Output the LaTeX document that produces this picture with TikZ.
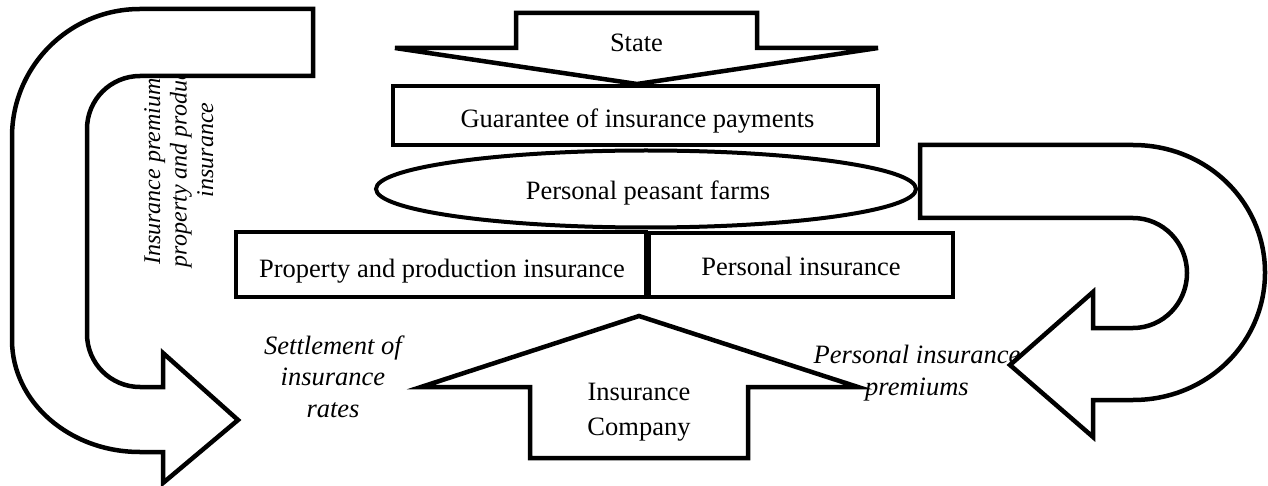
\documentclass[tikz,border=0pt]{standalone}
\usepackage{fontspec}
\setmainfont{Liberation Serif}
\usetikzlibrary{shapes.geometric}
\begin{document}
\begin{tikzpicture}[x=1pt,y=-1pt,
  outl/.style={draw=black,line width=4.5pt,line join=miter,fill=white},
  boxst/.style={draw=black,line width=4pt,fill=white,inner sep=0pt},
  reg/.style={font=\fontsize{26.5}{35}\selectfont,inner sep=0pt,align=center},
  ital/.style={font=\fontsize{26.5}{31.5}\selectfont\itshape,inner sep=0pt,align=center},
  rot/.style={font=\fontsize{24}{26.5}\selectfont\itshape,inner sep=0pt,align=center}]
\fill[white] (0,0) rectangle (1268,486);
\useasboundingbox (0,0) rectangle (1268,486);

% texts partly hidden behind the curved arrows (anchor base = last line)
\node[rot,rotate=90,anchor=base] (prem) at (213,150)
  {Insurance premiums for\\property and production\\insurance};
\node[ital,anchor=base] (pers) at (917,395) {Personal insurance\\premiums};

% left curved arrow
\draw[outl] (313,9) -- (140,9)
  .. controls (69.3,9) and (12,66.3) .. (12,137)
  -- (12,340)
  .. controls (12,401.8) and (69.3,452) .. (140,452)
  -- (163,452) -- (163,483) -- (238,420) -- (163,353) -- (163,387) -- (140,387)
  .. controls (110.7,387) and (87,363.3) .. (87,334)
  -- (87,129)
  .. controls (87,99.7) and (110.7,76) .. (140,76)
  -- (313,76) -- cycle;

% right curved arrow
\draw[outl] (920,145) -- (1133,145)
  .. controls (1207,145) and (1265,202.1) .. (1265,272.5)
  .. controls (1265,342.9) and (1207,400) .. (1133,400)
  -- (1093,400) -- (1093,437) -- (1010,365) -- (1093,292) -- (1093,328) -- (1133,328)
  .. controls (1162.8,328) and (1187,303.4) .. (1187,273)
  .. controls (1187,242.6) and (1162.8,218) .. (1133,218)
  -- (920,218) -- cycle;

% boxes
\node[boxst,minimum width=485pt,minimum height=59pt] (guar) at (635.5,115.5) {};
\node[boxst,ellipse,minimum width=540pt,minimum height=77pt] (farms) at (646,189) {};
\node[boxst,minimum width=410pt,minimum height=65pt] (prop) at (441,264.5) {};
\node[boxst,minimum width=304pt,minimum height=64pt] (persbox) at (801,265) {};

% State arrow
\draw[outl] (395,48) -- (516,48) -- (516,13) -- (757,13) -- (757,48) -- (878,48) -- (637,84) -- cycle;
% Insurance company arrow
\draw[outl] (639,316) -- (858,387) -- (748,387) -- (748,458) -- (530,458) -- (530,387) -- (421,387) -- cycle;

% labels
\node[reg,anchor=base] (tstate) at (636.5,52) {State};
\node[reg,anchor=base] (tguar) at (637.5,128) {Guarantee of insurance payments};
\node[reg,anchor=base] (tfarms) at (648,200) {Personal peasant farms};
\node[reg,anchor=base] (tprop) at (442,277.5) {Property and production insurance};
\node[reg,anchor=base] (tpers) at (801,276) {Personal insurance};
\node[reg,anchor=base] (tcomp) at (639,435) {Insurance\\Company};
\node[ital,anchor=base] (tsettle) at (333,417) {Settlement of\\insurance\\rates};
\end{tikzpicture}
\end{document}
